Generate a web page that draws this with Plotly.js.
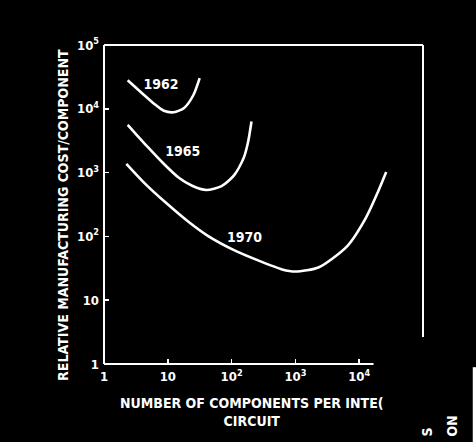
<!DOCTYPE html>
<html>
<head>
<meta charset="utf-8">
<script src="https://cdn.plot.ly/plotly-3.0.1.min.js"></script>
<style>html,body{margin:0;padding:0;background:#000;}#chart{width:476px;height:442px;}</style>
</head>
<body>
<div id="chart"></div>
<script>
// Components per integrated circuit (x) and relative manufacturing cost per component (y)
const x1962 = [2.35, 3.91, 6.15, 8.67, 12.4, 18.0, 25.1, 31.6];
const y1962 = [28000, 17700, 11900, 9300, 8830, 10300, 16300, 30300];

const x1965 = [2.35, 4.84, 8.47, 14.9, 23.6, 40.1, 69.7, 109, 155, 182, 205];
const y1965 = [5620, 2520, 1400, 828, 628, 533, 612, 904, 1710, 3080, 6310];

const x1970 = [2.24, 4.39, 9.66, 21.3, 42.4, 107, 272, 619, 995, 2340, 6500, 12850, 19800, 26500];
const y1970 = [1375, 673, 327, 168, 102, 61.5, 41.3, 30.4, 28.2, 32.9, 70.6, 199, 506, 1020];

const labelText = ["1962", "1965", "1970"];
const labelX = [7.8, 17.2, 160];
const labelY = [23300, 2090, 93];

const xTickVals = [1, 10, 100, 1000, 10000];
const xTickText = ["1", "10", "10<sup>2</sup>", "10<sup>3</sup>", "10<sup>4</sup>"];
const yTickVals = [1, 10, 100, 1000, 10000, 100000];
const yTickText = ["1", "10", "10<sup>2</sup>", "10<sup>3</sup>", "10<sup>4</sup>", "10<sup>5</sup>"];

const FONT = "'DejaVu Sans Condensed', 'Liberation Sans Narrow', 'DejaVu Sans', sans-serif";
const W = "#ffffff";

const curve = (x, y) => ({
  x: x, y: y, type: "scatter", mode: "lines",
  line: {color: W, width: 2.6, shape: "spline", smoothing: 0.7},
  hoverinfo: "skip", showlegend: false
});

const traces = [
  curve(x1962, y1962),
  curve(x1965, y1965),
  curve(x1970, y1970),
  {
    x: labelX, y: labelY, text: labelText, type: "scatter", mode: "text",
    textfont: {color: W, size: 14, family: FONT, weight: "bold"}, showlegend: false, hoverinfo: "skip"
  }
];

const axisCommon = {
  type: "log", showgrid: false, zeroline: false, showline: false,
  ticks: "inside", ticklen: 5, tickwidth: 1.5, tickcolor: W,
  tickfont: {color: W, size: 13, family: FONT, weight: "bold"}, tickmode: "array"
};

const layout = {
  width: 476, height: 442,
  paper_bgcolor: "#000", plot_bgcolor: "#000",
  margin: {l: 104, r: 53, t: 45, b: 78},
  showlegend: false,
  xaxis: Object.assign({}, axisCommon, {
    range: [0, 5], tickvals: xTickVals, ticktext: xTickText, ticklabelstandoff: 3
  }),
  yaxis: Object.assign({}, axisCommon, {
    range: [0, 5], tickvals: yTickVals, ticktext: yTickText, ticklabelstandoff: 4
  }),
  shapes: [
    {type: "line", xref: "paper", yref: "paper", x0: 0, x1: 0, y0: 0, y1: 1, line: {color: W, width: 2}},
    {type: "line", xref: "paper", yref: "paper", x0: 0, x1: 1, y0: 1, y1: 1, line: {color: W, width: 2}},
    {type: "line", xref: "paper", yref: "paper", x0: 0, x1: 0.845, y0: 0, y1: 0, line: {color: W, width: 2}},
    {type: "line", xref: "paper", yref: "paper", x0: 1, x1: 1, y0: 0.085, y1: 1, line: {color: W, width: 2}},
    {type: "rect", xref: "paper", yref: "paper", x0: 1.156, x1: 1.17, y0: -0.245, y1: -0.01, fillcolor: W, line: {width: 0}}
  ],
  annotations: [
    {xref: "paper", yref: "paper", x: 0.464, y: -0.15, xanchor: "center", yanchor: "middle",
     showarrow: false, align: "center",
     text: "NUMBER OF COMPONENTS PER INTE(<br>CIRCUIT",
     font: {color: W, size: 14, family: FONT, weight: "bold"}},
    {xref: "paper", yref: "paper", x: -0.129, y: 0.467, xanchor: "center", yanchor: "middle",
     showarrow: false, textangle: -90,
     text: "RELATIVE MANUFACTURING COST/COMPONENT",
     font: {color: W, size: 14, family: FONT, weight: "bold"}},
    {xref: "paper", yref: "paper", x: 1.012, y: -0.212, xanchor: "center", yanchor: "middle",
     showarrow: false, textangle: -90, text: "S", font: {color: W, size: 14, family: FONT, weight: "bold"}},
    {xref: "paper", yref: "paper", x: 1.088, y: -0.196, xanchor: "center", yanchor: "middle",
     showarrow: false, textangle: -90, text: "ON", font: {color: W, size: 14, family: FONT, weight: "bold"}}
  ]
};

Plotly.newPlot("chart", traces, layout, {displayModeBar: false, staticPlot: true});
</script>
</body>
</html>
